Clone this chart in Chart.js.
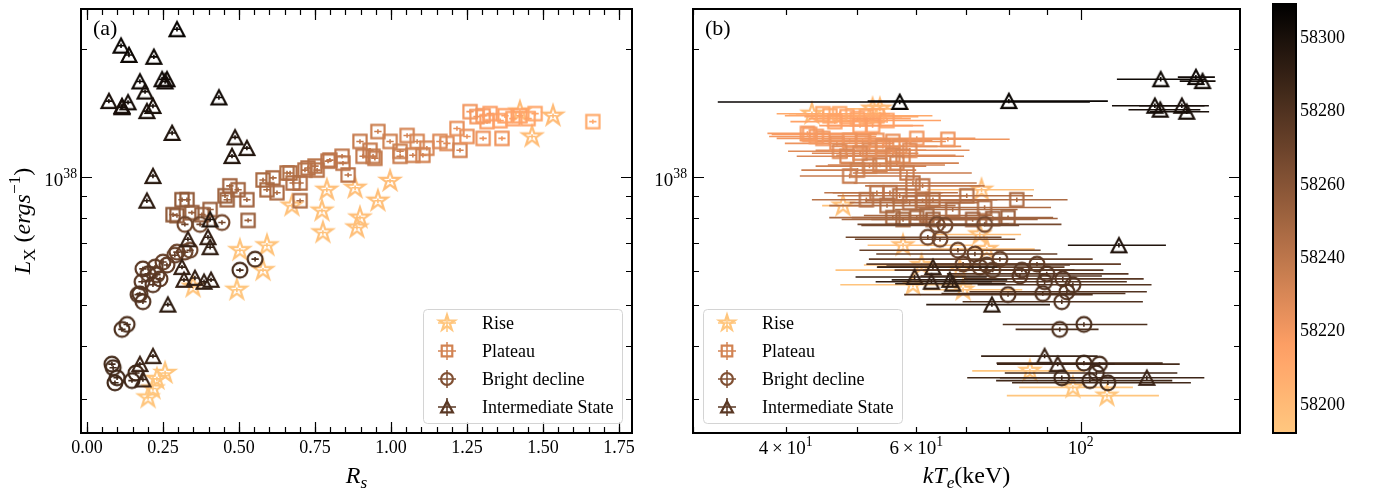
<!DOCTYPE html>
<html>
<head>
<meta charset="utf-8">
<title>Lx vs Rs and kTe</title>
<script src="https://cdn.jsdelivr.net/npm/chart.js@4.4.1/dist/chart.umd.min.js"></script>
<style>
  body { margin: 0; background: #fff; }
  .panel { position: absolute; top: 0; }
</style>
</head>
<body>
<canvas id="chart-rs" class="panel" width="660" height="494" style="left:0px"></canvas>
<canvas id="chart-kte" class="panel" width="622" height="494" style="left:640px"></canvas>
<canvas id="chart-cbar" class="panel" width="112" height="494" style="left:1262px"></canvas>
<script>
// colour bar range (MJD), copper_r
const cbarMin = 58192;
const cbarMax = 58309;
const cbarTicks = [58200, 58220, 58240, 58260, 58280, 58300];

// axis ticks
const rsTicks = [0, 0.25, 0.5, 0.75, 1.0, 1.25, 1.5, 1.75];
const lxTicks = [1e38];
const lxMinorTicks = [3e37, 4e37, 5e37, 6e37, 7e37, 8e37, 9e37, 2e38];
const kteTicks = [100];
const kteMinorTicks = [30, 40, 50, 60, 70, 80, 90];
const kteLabelTicks = [40, 60, 100];

const stateNames = ['Rise', 'Plateau', 'Bright decline', 'Intermediate State'];
const stateShapes = ['star', 'square', 'circle', 'triangle'];
const legendMjd = [58193, 58232, 58262, 58276];

// small error sizes for the (a) panel
const rsErr = 0.012;
const lxErrFrac = 0.012;

// ---- panel (a): Rs vs Lx (Lx in units of 1e38 erg/s) ----
const aRiseRs = [0.789, 0.882, 0.997, 0.957, 0.898, 0.773, 0.674, 0.776, 0.888, 0.592, 0.503, 0.579, 0.493, 0.349, 1.533, 1.464, 1.424, 0.257, 0.230, 0.201, 0.217];
const aRiseLx = [0.933, 0.943, 0.979, 0.879, 0.802, 0.833, 0.856, 0.740, 0.760, 0.690, 0.672, 0.603, 0.542, 0.551, 1.395, 1.246, 1.426, 0.345, 0.334, 0.302, 0.317];
const aRiseMjd = [58196, 58197, 58198, 58197, 58196, 58195, 58195, 58195, 58196, 58194, 58194, 58194, 58193, 58194, 58199, 58198, 58199, 58193, 58193, 58192.5, 58193];

const aPlatRs = [0.329, 0.296, 0.345, 0.378, 0.405, 0.461, 0.470, 0.454, 0.497, 0.526, 0.530, 0.579, 0.612, 0.592, 0.625, 0.668, 0.701, 0.701, 0.717, 0.750,
  0.799, 0.842, 0.859, 0.898, 0.908, 0.947, 0.957, 0.931, 0.997, 1.030, 1.053, 1.072, 1.086, 1.118, 1.161, 1.184, 1.227, 1.217, 1.250, 1.283,
  1.303, 1.316, 1.359, 1.401, 1.451, 1.303, 1.365, 1.664, 0.3125, 0.283, 0.658, 0.678, 0.727, 0.757, 0.793, 0.839, 0.941, 1.030, 1.105, 1.260,
  1.326, 1.424, 1.474, 1.375];
const aPlatLx = [0.884, 0.811, 0.824, 0.815, 0.838, 0.884, 0.953, 0.903, 0.933, 0.884, 0.790, 0.984, 0.995, 0.933, 0.918, 1.022, 0.968, 0.879, 1.038, 1.061,
  1.096, 1.078, 1.011, 1.213, 1.119, 1.107, 1.280, 1.156, 1.213, 1.150, 1.253, 1.125, 1.213, 1.169, 1.213, 1.200, 1.156, 1.301, 1.246, 1.388,
  1.395, 1.351, 1.358, 1.373, 1.373, 1.233, 1.233, 1.351, 0.884, 0.815, 1.022, 0.968, 1.050, 1.038, 1.090, 1.119, 1.119, 1.119, 1.125, 1.426,
  1.411, 1.395, 1.411, 1.395];
const aPlatMjd = [58255, 58256, 58254, 58254, 58253, 58251, 58250, 58251, 58249, 58250, 58252, 58247, 58246, 58247, 58246, 58244, 58243, 58245, 58242, 58241,
  58240, 58239, 58240, 58236, 58238, 58237, 58234, 58236, 58233, 58234, 58231, 58233, 58230, 58230, 58228, 58227, 58232, 58224, 58223, 58219,
  58218, 58217, 58215, 58213, 58212, 58222, 58221, 58208, 58256, 58257, 58244, 58244, 58242, 58241, 58240, 58239, 58237, 58235, 58232, 58220,
  58216, 58214, 58211, 58214];

const aBrightRs = [0.322, 0.372, 0.444, 0.250, 0.296, 0.322, 0.339, 0.289, 0.224, 0.230, 0.184, 0.201, 0.263, 0.240, 0.217, 0.181, 0.174, 0.168, 0.184, 0.132,
  0.115, 0.082, 0.086, 0.099, 0.092, 0.148, 0.161, 0.503, 0.553];
const aBrightLx = [0.773, 0.773, 0.781, 0.630, 0.665, 0.665, 0.672, 0.654, 0.613, 0.588, 0.607, 0.591, 0.620, 0.575, 0.557, 0.566, 0.530, 0.528, 0.508, 0.449,
  0.437, 0.362, 0.355, 0.336, 0.327, 0.331, 0.345, 0.603, 0.640];
const aBrightMjd = [58268, 58268, 58266, 58272, 58270, 58270, 58271, 58272, 58274, 58274, 58276, 58276, 58273, 58275, 58277, 58277, 58278, 58278, 58279, 58281,
  58281, 58284, 58284, 58285, 58285, 58285, 58284, 58283, 58282];

const aInterRs = [0.296, 0.112, 0.138, 0.220, 0.174, 0.247, 0.263, 0.257, 0.191, 0.072, 0.115, 0.135, 0.217, 0.197, 0.115, 0.434, 0.280, 0.487, 0.526, 0.477,
  0.217, 0.197, 0.405, 0.332, 0.398, 0.405, 0.3125, 0.319, 0.355, 0.385, 0.408, 0.266, 0.217, 0.174, 0.184];
const aInterLx = [2.23, 2.04, 1.94, 1.92, 1.68, 1.70, 1.70, 1.68, 1.59, 1.51, 1.47, 1.50, 1.47, 1.43, 1.46, 1.54, 1.27, 1.24, 1.17, 1.12,
  1.005, 0.879, 0.794, 0.713, 0.721, 0.683, 0.613, 0.572, 0.578, 0.566, 0.572, 0.500, 0.378, 0.362, 0.333];
const aInterMjd = [58306, 58305, 58304, 58304, 58303, 58303, 58302, 58302, 58301, 58300, 58300, 58301, 58299, 58299, 58300, 58302, 58298, 58297, 58297, 58296,
  58294, 58293, 58296, 58290, 58290, 58291, 58289, 58289, 58290, 58291, 58291, 58292, 58288, 58287, 58287];

// ---- panel (b): kTe (keV, with lower/upper errors) vs Lx ----
const bRiseKte = [43.4, 52.4, 53.6, 47.8, 73.5, 57.6, 74.7, 73.1, 61.0, 59.4, 69.4, 68.7, 85.4, 97.6, 108.5];
const bRiseLo = [3, 4, 4, 3, 11.5, 6, 12, 10, 10, 12, 8, 22, 14, 15, 29];
const bRiseHi = [4, 6, 5, 3, 13, 14, 12, 10, 12, 12, 14, 12, 16, 20, 19];
const bRiseLx = [1.41, 1.449, 1.449, 0.856, 0.933, 0.690, 0.676, 0.732, 0.620, 0.557, 0.542, 0.603, 0.349, 0.319, 0.305];
const bRiseMjd = [58198, 58199, 58199, 58195, 58197, 58196, 58196, 58197, 58194, 58194, 58194, 58195, 58193, 58192.5, 58193];

const bPlatKte = [44.9, 45.9, 47.3, 48.4, 50.0, 51.4, 53.1, 54.8, 46.6, 50.4, 52.4, 42.8, 44.9, 44.0, 46.9, 48.8, 50.8, 53.1, 55.8, 60.1,
  66.2, 57.0, 58.8, 47.3, 48.4, 50.4, 51.9, 54.1, 55.8, 57.6, 48.8, 50.0, 51.9, 53.6, 56.5, 58.3, 59.4, 61.2, 51.4, 53.1,
  55.3, 57.0, 54.8, 58.8, 61.2, 63.2, 55.8, 57.6, 60.1, 62.0, 63.2, 70.2, 67.2, 74.2, 71.5, 76.1, 79.8, 82.0, 43.1];
const bPlatLo = [6, 6, 6, 6, 7, 7, 7, 8, 6, 6, 7, 5, 6, 6, 7, 7, 7, 8, 8, 9,
  11, 9, 9, 7, 7, 7, 8, 8, 9, 9, 7, 8, 8, 8, 9, 9, 10, 10, 8, 8,
  9, 10, 9, 10, 10, 10, 10, 10, 11, 11, 11, 12, 11, 12, 12, 12, 13, 13, 4.8];
const bPlatHi = [8, 8, 8, 9, 9, 9, 10, 10, 8, 9, 9, 10, 9, 9, 9, 9, 10, 10, 10, 12,
  14, 12, 12, 9, 9, 10, 10, 10, 12, 12, 10, 10, 10, 12, 12, 13, 13, 13, 12, 12,
  13, 13, 13, 14, 14, 14, 13, 14, 14, 14, 15, 16, 15, 17, 16, 17, 12, 14, 10];
const bPlatLx = [1.41, 1.395, 1.41, 1.388, 1.373, 1.388, 1.395, 1.359, 1.351, 1.322, 1.322, 1.267, 1.233, 1.246, 1.200, 1.220, 1.213, 1.220, 1.213, 1.233,
  1.227, 1.181, 1.156, 1.150, 1.119, 1.138, 1.156, 1.181, 1.125, 1.119, 1.005, 1.038, 1.061, 1.067, 1.078, 1.022, 0.968, 0.953, 0.884, 0.918,
  0.918, 0.903, 0.856, 0.870, 0.879, 0.884, 0.802, 0.794, 0.802, 0.811, 0.794, 0.903, 0.838, 0.847, 0.794, 0.798, 0.802, 0.884, 1.260];
const bPlatMjd = [58210, 58211, 58209, 58212, 58213, 58211, 58210, 58214, 58214, 58216, 58216, 58218, 58220, 58219, 58222, 58221, 58222, 58221, 58223, 58220,
  58221, 58224, 58226, 58227, 58229, 58228, 58226, 58225, 58228, 58229, 58236, 58234, 58233, 58232, 58232, 58235, 58238, 58239, 58242, 58240,
  58240, 58241, 58244, 58243, 58243, 58242, 58247, 58248, 58248, 58247, 58249, 58244, 58246, 58245, 58250, 58250, 58251, 58246, 58218];

const bBrightKte = [62.2, 64.6, 64.0, 65.6, 74.2, 68.3, 72.0, 69.4, 73.1, 74.7, 77.8, 76.1, 79.8, 83.3, 82.8, 87.3, 90.0, 89.4, 94.6, 97.6,
  95.8, 94.3, 88.9, 93.7, 101, 101, 106, 105, 94.3, 102.9, 108.8];
const bBrightLo = [14, 15, 14, 15, 18, 18, 19, 18, 20, 20, 26, 20, 22, 22, 22, 24, 24, 24, 25, 25,
  25, 25, 24, 12, 22.5, 24, 26, 26, 24, 26, 28];
const bBrightHi = [16, 17, 16, 17, 20, 20, 21, 20, 22, 22, 26, 22, 24, 24, 24, 26, 26, 26, 27, 27,
  27, 27, 26, 12, 22, 28, 30, 30, 26, 30, 32];
const bBrightLx = [0.721, 0.713, 0.773, 0.769, 0.773, 0.672, 0.658, 0.623, 0.613, 0.620, 0.640, 0.603, 0.528, 0.603, 0.584, 0.623, 0.591, 0.566, 0.575, 0.557,
  0.536, 0.508, 0.531, 0.437, 0.449, 0.364, 0.362, 0.345, 0.336, 0.331, 0.327];
const bBrightMjd = [58268, 58268, 58266, 58266, 58266, 58271, 58272, 58273, 58274, 58274, 58272, 58275, 58279, 58276, 58276, 58273, 58277, 58278, 58277, 58278,
  58279, 58280, 58280, 58281, 58281, 58284, 58284, 58285, 58285, 58285, 58285];

const bInterKte = [57.0, 80.0, 128.2, 143, 146, 125.9, 128, 136.9, 139, 112.6, 59.7, 63.2, 62.9, 66.6, 67.2, 75.9, 89.4, 93.1, 122.8];
const bInterLo = [24.6, 28.4, 16.3, 7.8, 10, 15.7, 12, 17, 15, 16.5, 10, 10, 10, 11, 11, 14, 16, 16, 45];
const bInterHi = [45.9, 28.8, 19, 8.7, 6, 21, 17, 12, 10, 17.7, 15, 14, 13, 13, 12, 15, 16, 18, 24];
const bInterLx = [1.503, 1.51, 1.70, 1.72, 1.683, 1.472, 1.441, 1.472, 1.425, 0.690, 0.581, 0.613, 0.566, 0.572, 0.560, 0.500, 0.378, 0.362, 0.336];
const bInterMjd = [58306, 58305, 58304, 58303, 58302, 58301, 58300, 58300, 58299, 58297, 58290, 58289, 58290, 58291, 58291, 58292, 58288, 58287, 58287];

const serif = '"Liberation Serif", "Times New Roman", serif';
Chart.defaults.font.family = serif;
Chart.defaults.animation = false;

// copper_r colormap
function copperR(mjd) {
  const t = Math.min(1, Math.max(0, (mjd - cbarMin) / (cbarMax - cbarMin)));
  const v = 1 - t;
  const r = Math.min(1, 1.25 * v), g = 0.7812 * v, b = 0.4975 * v;
  return 'rgb(' + Math.round(r * 255) + ',' + Math.round(g * 255) + ',' + Math.round(b * 255) + ')';
}

// hollow marker sprites, cached per shape/colour
const markerCache = {};
function marker(shape, color, scale) {
  scale = scale || 1;
  const key = shape + color + scale;
  if (markerCache[key]) return markerCache[key];
  const c = document.createElement('canvas');
  c.width = c.height = 28;
  const g = c.getContext('2d');
  g.translate(14, 14);
  g.scale(scale, scale);
  g.strokeStyle = color;
  g.lineWidth = 2.2 / scale;
  g.lineJoin = 'miter';
  g.beginPath();
  if (shape === 'circle') {
    g.arc(0, 0, 7.4, 0, Math.PI * 2);
  } else if (shape === 'square') {
    g.rect(-6.6, -6.6, 13.2, 13.2);
  } else if (shape === 'triangle') {
    g.moveTo(0, -7.2); g.lineTo(7.4, 6.8); g.lineTo(-7.4, 6.8); g.closePath();
  } else {
    for (let k = 0; k < 10; k++) {
      const r = k % 2 ? 3.9 : 10.2;
      const a = -Math.PI / 2 + k * Math.PI / 5;
      g.lineTo(r * Math.cos(a), r * Math.sin(a));
    }
    g.closePath();
  }
  g.stroke();
  markerCache[key] = c;
  return c;
}

// text with italic / sub / superscript pieces
function drawRich(ctx, parts, x, y, size, align) {
  const segs = parts.map(p => {
    const s = size * (p.sup || p.sub ? 0.72 : 1);
    const font = (p.i ? 'italic ' : '') + s + 'px ' + serif;
    ctx.font = font;
    return { t: p.t, font: font, w: ctx.measureText(p.t).width, dy: p.sup ? -0.42 * size : p.sub ? 0.22 * size : 0 };
  });
  const total = segs.reduce((acc, s) => acc + s.w, 0);
  let cx = align === 'right' ? x - total : align === 'center' ? x - total / 2 : x;
  ctx.textAlign = 'left';
  ctx.textBaseline = 'alphabetic';
  ctx.fillStyle = '#000';
  segs.forEach(s => {
    ctx.font = s.font;
    ctx.fillText(s.t, cx, y + s.dy);
    cx += s.w;
  });
}

// errorbars drawn just below each dataset's markers
const errorBars = {
  id: 'errorBars',
  beforeDatasetDraw(chart, args) {
    const { ctx, chartArea: a, scales: { x, y } } = chart;
    const ds = chart.data.datasets[args.index];
    ctx.save();
    ctx.beginPath();
    ctx.rect(a.left, a.top, a.width, a.height);
    ctx.clip();
    ctx.lineWidth = 1.6;
    ds.data.forEach(p => {
      const px = x.getPixelForValue(p.x);
      const py = y.getPixelForValue(p.y);
      ctx.strokeStyle = copperR(p.mjd);
      ctx.beginPath();
      ctx.moveTo(x.getPixelForValue(p.x - p.xm), py);
      ctx.lineTo(x.getPixelForValue(p.x + p.xp), py);
      ctx.moveTo(px, y.getPixelForValue(p.y - p.ym));
      ctx.lineTo(px, y.getPixelForValue(p.y + p.yp));
      ctx.stroke();
    });
    ctx.restore();
  }
};

// box frame with inward ticks on all four sides
const axisFrame = {
  id: 'axisFrame',
  afterDraw(chart, args, opts) {
    const { ctx, chartArea: a, scales } = chart;
    ctx.save();
    ctx.strokeStyle = '#000';
    const tick = (scale, values, len) => {
      ctx.lineWidth = 1.2;
      values.forEach(v => {
        const p = Math.round(scale.getPixelForValue(v)) + 0.5;
        ctx.beginPath();
        if (scale.isHorizontal()) {
          if (p < a.left || p > a.right) return;
          ctx.moveTo(p, a.bottom); ctx.lineTo(p, a.bottom - len);
          ctx.moveTo(p, a.top); ctx.lineTo(p, a.top + len);
        } else {
          if (p < a.top || p > a.bottom) return;
          ctx.moveTo(a.left, p); ctx.lineTo(a.left + len, p);
          ctx.moveTo(a.right, p); ctx.lineTo(a.right - len, p);
        }
        ctx.stroke();
      });
    };
    if (opts.xMajor) tick(scales.x, opts.xMajor, 11);
    if (opts.xMinor) tick(scales.x, opts.xMinor, 6);
    if (opts.yMajor) tick(scales.y, opts.yMajor, 11);
    if (opts.yMinor) tick(scales.y, opts.yMinor, 6);
    ctx.lineWidth = 2;
    ctx.strokeRect(a.left, a.top, a.width, a.height);
    ctx.restore();
  }
};

// legend box with marker + errorbar handles
const stateLegend = {
  id: 'stateLegend',
  afterDraw(chart, args, opts) {
    if (!opts.side) return;
    const { ctx, chartArea: a } = chart;
    const w = 199, h = 114;
    const left = opts.side === 'right' ? a.right - 10 - w : a.left + 10;
    const top = a.bottom - 10 - h;
    ctx.save();
    ctx.fillStyle = 'rgba(255,255,255,0.8)';
    ctx.strokeStyle = '#d4d4d4';
    ctx.lineWidth = 1;
    ctx.beginPath();
    ctx.roundRect(left + 0.5, top + 0.5, w, h, 4);
    ctx.fill();
    ctx.stroke();
    stateNames.forEach((name, k) => {
      const cy = top + 14 + k * 28;
      const mx = left + 24;
      const col = copperR(legendMjd[k]);
      ctx.strokeStyle = col;
      ctx.lineWidth = 1.5;
      ctx.beginPath();
      ctx.moveTo(mx - 9, cy); ctx.lineTo(mx + 9, cy);
      ctx.moveTo(mx, cy - 9); ctx.lineTo(mx, cy + 9);
      ctx.stroke();
      const img = marker(stateShapes[k], col, 0.8);
      ctx.drawImage(img, mx - img.width / 2, cy - img.height / 2);
      drawRich(ctx, [{ t: name }], left + 59, cy + 6, 18, 'left');
    });
    ctx.restore();
  }
};

Chart.register(errorBars, axisFrame, stateLegend);

function buildSets(groups) {
  return groups.map((grp, k) => ({
    label: stateNames[k],
    order: 4 - k,
    data: grp,
    pointStyle: c => (c.raw ? marker(stateShapes[k], copperR(c.raw.mjd)) : 'circle'),
    pointRadius: 8
  }));
}

function pointsA(rs, lx, mjd) {
  return rs.map((r, i) => {
    const l = lx[i] * 1e38;
    return { x: r, y: l, mjd: mjd[i], xm: rsErr, xp: rsErr, ym: l * lxErrFrac, yp: l * lxErrFrac };
  });
}

function pointsB(kte, lo, hi, lx, mjd) {
  return kte.map((t, i) => {
    const l = lx[i] * 1e38;
    return { x: t, y: l, mjd: mjd[i], xm: lo[i], xp: hi[i], ym: l * lxErrFrac, yp: l * lxErrFrac };
  });
}

const rsMinorTicks = [];
for (let v = 0; v <= 1.76; v += 0.05) rsMinorTicks.push(v);

const lxScale = { type: 'logarithmic', min: 2.49e37, max: 2.49e38, display: false };
const baseOptions = {
  responsive: false,
  devicePixelRatio: 1,
  events: [],
  plugins: { legend: { display: false }, tooltip: { enabled: false } }
};

function yTickLabels(ctx, y, a, gap) {
  lxTicks.forEach(v => {
    drawRich(ctx, [{ t: '10' }, { t: String(Math.round(Math.log10(v))), sup: true }],
      a.left - gap, y.getPixelForValue(v) + 9, 19, 'right');
  });
}

// panel (a)
new Chart(document.getElementById('chart-rs'), {
  type: 'scatter',
  data: {
    datasets: buildSets([
      pointsA(aRiseRs, aRiseLx, aRiseMjd),
      pointsA(aPlatRs, aPlatLx, aPlatMjd),
      pointsA(aBrightRs, aBrightLx, aBrightMjd),
      pointsA(aInterRs, aInterLx, aInterMjd)
    ])
  },
  options: Object.assign({}, baseOptions, {
    layout: { padding: { left: 81, right: 28, top: 4, bottom: 61 } },
    scales: {
      x: { type: 'linear', min: -0.0197, max: 1.7928, display: false },
      y: lxScale
    },
    plugins: Object.assign({}, baseOptions.plugins, {
      axisFrame: { xMajor: rsTicks, xMinor: rsMinorTicks, yMajor: lxTicks, yMinor: lxMinorTicks },
      stateLegend: { side: 'right' }
    })
  }),
  plugins: [{
    id: 'textA',
    afterDraw(chart) {
      const { ctx, chartArea: a, scales: { x, y } } = chart;
      ctx.save();
      rsTicks.forEach(v => drawRich(ctx, [{ t: v.toFixed(2) }], x.getPixelForValue(v), a.bottom + 20, 18, 'center'));
      yTickLabels(ctx, y, a, 4);
      drawRich(ctx, [{ t: '(a)' }], a.left + 12, a.top + 26, 22, 'left');
      drawRich(ctx, [{ t: 'R', i: true }, { t: 's', i: true, sub: true }], (a.left + a.right) / 2, 483, 24, 'center');
      ctx.translate(30, (a.top + a.bottom) / 2);
      ctx.rotate(-Math.PI / 2);
      drawRich(ctx, [{ t: 'L', i: true }, { t: 'X', sub: true }, { t: ' (' }, { t: 'ergs', i: true },
        { t: '\u22121', sup: true }, { t: ')' }], 0, 0, 24, 'center');
      ctx.restore();
    }
  }]
});

// panel (b)
new Chart(document.getElementById('chart-kte'), {
  type: 'scatter',
  data: {
    datasets: buildSets([
      pointsB(bRiseKte, bRiseLo, bRiseHi, bRiseLx, bRiseMjd),
      pointsB(bPlatKte, bPlatLo, bPlatHi, bPlatLx, bPlatMjd),
      pointsB(bBrightKte, bBrightLo, bBrightHi, bBrightLx, bBrightMjd),
      pointsB(bInterKte, bInterLo, bInterHi, bInterLx, bInterMjd)
    ])
  },
  options: Object.assign({}, baseOptions, {
    layout: { padding: { left: 53, right: 22, top: 4, bottom: 61 } },
    scales: {
      x: { type: 'logarithmic', min: 30, max: 164, display: false },
      y: lxScale
    },
    plugins: Object.assign({}, baseOptions.plugins, {
      axisFrame: { xMajor: kteTicks, xMinor: kteMinorTicks, yMajor: lxTicks, yMinor: lxMinorTicks },
      stateLegend: { side: 'left' }
    })
  }),
  plugins: [{
    id: 'textB',
    afterDraw(chart) {
      const { ctx, chartArea: a, scales: { x, y } } = chart;
      ctx.save();
      kteLabelTicks.forEach(v => {
        const e = Math.floor(Math.log10(v) + 1e-9);
        const m = Math.round(v / Math.pow(10, e));
        const parts = m === 1 ? [{ t: '10' }, { t: String(e), sup: true }]
          : [{ t: m + '\u2009\u00d7\u200910' }, { t: String(e), sup: true }];
        drawRich(ctx, parts, x.getPixelForValue(v), a.bottom + 21, 19, 'center');
      });
      yTickLabels(ctx, y, a, 6);
      drawRich(ctx, [{ t: '(b)' }], a.left + 12, a.top + 26, 22, 'left');
      drawRich(ctx, [{ t: 'k', i: true }, { t: 'T', i: true }, { t: 'e', i: true, sub: true }, { t: '(keV)' }],
        (a.left + a.right) / 2, 483, 24, 'center');
      ctx.restore();
    }
  }]
});

// colour bar
new Chart(document.getElementById('chart-cbar'), {
  type: 'scatter',
  data: { datasets: [] },
  options: Object.assign({}, baseOptions, {
    layout: { padding: { left: 11, right: 78, top: 4, bottom: 61 } },
    scales: {
      x: { type: 'linear', min: 0, max: 1, display: false },
      y: { type: 'linear', min: cbarMin, max: cbarMax, display: false }
    }
  }),
  plugins: [{
    id: 'cbar',
    beforeDatasetsDraw(chart) {
      const { ctx, chartArea: a } = chart;
      const grad = ctx.createLinearGradient(0, a.bottom, 0, a.top);
      for (let k = 0; k <= 24; k++) grad.addColorStop(k / 24, copperR(cbarMin + (cbarMax - cbarMin) * k / 24));
      ctx.save();
      ctx.fillStyle = grad;
      ctx.fillRect(a.left, a.top, a.width, a.height);
      ctx.restore();
    },
    afterDraw(chart) {
      const { ctx, chartArea: a, scales: { y } } = chart;
      ctx.save();
      cbarTicks.forEach(v => drawRich(ctx, [{ t: String(v) }], a.right + 4, y.getPixelForValue(v) + 6, 18, 'left'));
      ctx.restore();
    }
  }]
});
</script>
</body>
</html>
